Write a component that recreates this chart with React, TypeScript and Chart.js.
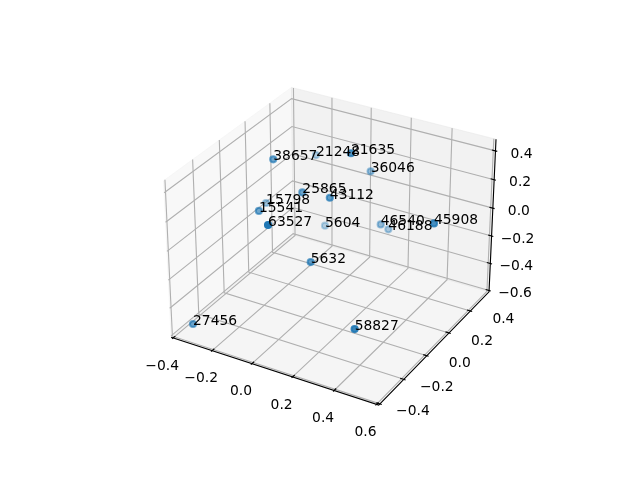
import React, { useEffect, useRef } from "react";
import { Chart, registerables } from "chart.js";
Chart.register(...registerables);

const pointLabels = ["38657","21248","21635","36046","25865","43112","15798","15541","63527","5604","46540","46188","45908","5632","58827","27456"];
const xs = [-0.187,-0.169,0.131,0.113,-0.044,0.082,-0.267,-0.185,-0.017,-0.075,0.209,0.208,0.526,0.080,0.366,-0.308];
const ys = [0.072,0.391,0.180,0.381,0.073,0.089,0.133,-0.050,-0.240,0.310,0.305,0.376,0.193,-0.065,-0.186,-0.389];
const zs = [0.383,0.207,0.471,0.205,0.209,0.210,0.005,0.111,0.218,-0.208,-0.080,-0.167,0.136,-0.127,-0.379,-0.484];
const xTicks = [-0.4,-0.2,0,0.2,0.4,0.6];
const yTicks = [-0.4,-0.2,0,0.2,0.4];
const zTicks = [-0.6,-0.4,-0.2,0,0.2,0.4];
const xLim = [-0.39,0.59];
const yLim = [-0.39,0.56];
const zLim = [-0.588,0.458];

const AZ = -60*Math.PI/180, EL = 30*Math.PI/180, DIST = 10;
const box = [1.1429,1.1429,0.8571];
const w = [Math.cos(EL)*Math.cos(AZ), Math.cos(EL)*Math.sin(AZ), Math.sin(EL)];
const cross = (a:number[],b:number[]) => [a[1]*b[2]-a[2]*b[1], a[2]*b[0]-a[0]*b[2], a[0]*b[1]-a[1]*b[0]];
const norm = (a:number[]) => { const n=Math.hypot(a[0],a[1],a[2]); return a.map(v=>v/n); };
const dot = (a:number[],b:number[]) => a[0]*b[0]+a[1]*b[1]+a[2]*b[2];
const u = norm(cross([0,0,1],w));
const v = cross(w,u);
const lims = [xLim,yLim,zLim];
function proj(x:number,y:number,z:number){
  const p=[x,y,z].map((val,i)=>(val-lims[i][0])/(lims[i][1]-lims[i][0])*box[i]-box[i]/2);
  const d=DIST-dot(p,w);
  return {x:dot(p,u)/d,y:dot(p,v)/d,depth:dot(p,w)};
}

export default function App(){
  const ref=useRef<HTMLCanvasElement>(null);
  useEffect(()=>{
    document.body.style.margin="0";
    const ln=(a:number[][],color:string,width:number,order:number,fill?:string)=>({
      data:a.map(p=>{const q=proj(p[0],p[1],p[2]);return{x:q.x,y:q.y};}),
      showLine:true,borderColor:color,borderWidth:width,pointRadius:0,tension:0,order,clip:false as any,
      fill:fill?"shape":false,backgroundColor:fill||"transparent",
    });
    const pad=(l:number[])=>[l[0]-(l[1]-l[0])/48,l[1]+(l[1]-l[0])/48];
    const [x0,x1]=pad(xLim),[y0,y1]=pad(yLim),[z0,z1]=pad(zLim);
    const ds:any[]=[];
    ds.push(ln([[x0,y0,z0],[x0,y1,z0],[x0,y1,z1],[x0,y0,z1],[x0,y0,z0]],"rgba(242,242,242,0.5)",1,100,"rgba(242,242,242,0.5)"));
    ds.push(ln([[x0,y1,z0],[x1,y1,z0],[x1,y1,z1],[x0,y1,z1],[x0,y1,z0]],"rgba(230,230,230,0.5)",1,99,"rgba(230,230,230,0.5)"));
    ds.push(ln([[x0,y0,z0],[x1,y0,z0],[x1,y1,z0],[x0,y1,z0],[x0,y0,z0]],"rgba(236,236,236,0.5)",1,98,"rgba(236,236,236,0.5)"));
    const G="rgb(176,176,176)";
    xTicks.forEach(t=>ds.push(ln([[t,y0,z0],[t,y1,z0],[t,y1,z1]],G,1.11,90)));
    yTicks.forEach(t=>ds.push(ln([[x1,t,z0],[x0,t,z0],[x0,t,z1]],G,1.11,90)));
    zTicks.forEach(t=>ds.push(ln([[x0,y0,t],[x0,y1,t],[x1,y1,t]],G,1.11,90)));
    ds.push(ln([[x0,y0,z0],[x1,y0,z0],[x1,y1,z0],[x1,y1,z1]],"#000",1.11,80));
    const dy=(y1-y0)/12, dx=(x1-x0)/12;
    xTicks.forEach(t=>ds.push(ln([[t,y0+dy*0.2,z0],[t,y0-dy*0.1,z0]],"#000",1.11,80)));
    yTicks.forEach(t=>ds.push(ln([[x1-dx*0.2,t,z0],[x1+dx*0.1,t,z0]],"#000",1.11,80)));
    zTicks.forEach(t=>ds.push(ln([[x1-dx*0.2,y1,t],[x1+dx*0.1,y1,t]],"#000",1.11,80)));
    const projected=xs.map((x,i)=>proj(x,ys[i],zs[i]));
    const depths=projected.map(q=>q.depth);
    const dmin=Math.min(...depths), dmax=Math.max(...depths);
    const alpha=projected.map(q=>0.3+0.7*Math.pow((q.depth-dmin)/(dmax-dmin),1.3));
    const order=xs.map((_,i)=>i).sort((a,b)=>depths[a]-depths[b]);
    ds.push({data:order.map(i=>({x:projected[i].x,y:projected[i].y})),
      pointRadius:3.1,pointBorderWidth:2,
      pointBackgroundColor:order.map(i=>`rgba(31,119,180,${alpha[i]})`),
      pointBorderColor:order.map(i=>`rgba(31,119,180,${alpha[i]})`),order:10,clip:false});
    const textPlugin={id:"t",afterDatasetsDraw(c:any){
      const ctx=c.ctx;const X=c.scales.x,Y=c.scales.y;
      ctx.save();ctx.fillStyle="#000";ctx.font='13.89px "DejaVu Sans"';
      ctx.textAlign="left";ctx.textBaseline="alphabetic";
      projected.forEach((q,i)=>ctx.fillText(pointLabels[i],X.getPixelForValue(q.x),Y.getPixelForValue(q.y)+1));
      ctx.textAlign="center";ctx.textBaseline="middle";
      const f=(t:number)=>(t<0?"\u2212":"")+Math.abs(t).toFixed(1);
      xTicks.forEach(t=>{const q=proj(t,y0,z0);ctx.fillText(f(t),X.getPixelForValue(q.x)-11,Y.getPixelForValue(q.y)+28);});
      yTicks.forEach(t=>{const q=proj(x1,t,z0);ctx.fillText(f(t),X.getPixelForValue(q.x)+33,Y.getPixelForValue(q.y)+8);});
      zTicks.forEach(t=>{const q=proj(x1,y1,t);ctx.fillText(f(t),X.getPixelForValue(q.x)+26,Y.getPixelForValue(q.y)+3);});
      ctx.restore();
    }};
    const chart=new Chart(ref.current!,{type:"scatter",data:{datasets:ds},plugins:[textPlugin],options:{
      animation:false,responsive:false,
      layout:{padding:{left:143.2,right:640-512.8,top:58.8,bottom:480-428.4}},
      plugins:{legend:{display:false},tooltip:{enabled:false}},
      scales:{x:{type:"linear",min:-0.095,max:0.09,display:false},y:{type:"linear",min:-0.095,max:0.09,display:false}},
    }} as any);
    return ()=>chart.destroy();
  },[]);
  return <canvas ref={ref} width={640} height={480} style={{display:"block"}}/>;
}
